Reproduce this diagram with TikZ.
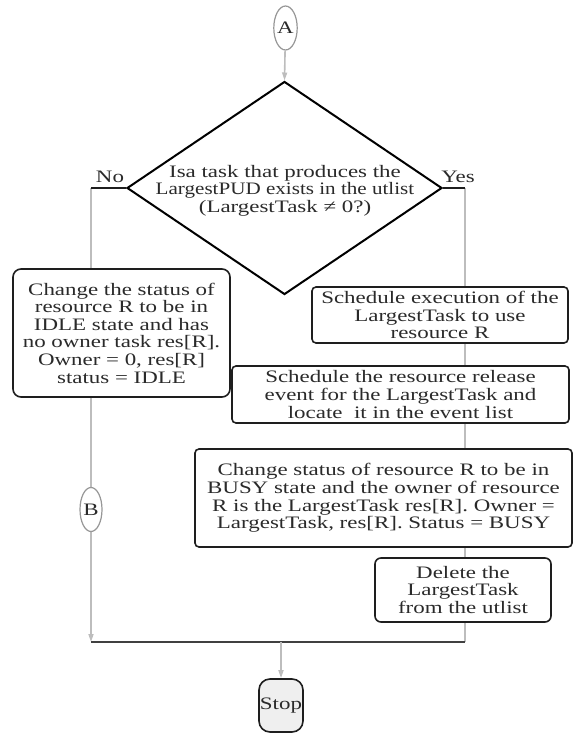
\documentclass[tikz,border=0pt]{standalone}
\usepackage{fontspec}
\usepackage{graphicx}
\setmainfont[FakeStretch=1.31]{Liberation Serif}
\usetikzlibrary{shapes.geometric,arrows.meta,backgrounds}
\definecolor{txtc}{HTML}{2A2A2A}
\definecolor{edgec}{HTML}{1E1E1E}
\definecolor{flowc}{HTML}{BDBDBD}
\definecolor{stopfill}{HTML}{EFEFEF}
\begin{document}
\begin{tikzpicture}[x=1pt,y=-1pt,
  every node/.style={font=\fontsize{17.5}{17.6}\selectfont, text=txtc},
  procbox/.style={draw=edgec, line width=1.6pt, fill=white, rounded corners=4pt,
    inner sep=0pt, align=center},
  decision/.style={diamond, draw=black, line width=2pt, fill=white, inner sep=0pt,
    minimum width=315pt, minimum height=213pt},
  connector/.style={ellipse, draw=flowc!80!black, line width=1.2pt, fill=white,
    inner sep=0pt, minimum width=22pt, minimum height=44pt},
  terminal/.style={draw=edgec, line width=1.6pt, fill=stopfill, rounded corners=11pt,
    inner sep=0pt, minimum width=44pt, minimum height=53pt},
  flow/.style={draw=flowc, line width=1.6pt},
  flowarrow/.style={flow, -{Triangle[length=8pt,width=5pt]}},
  stub/.style={draw=edgec, line width=1.6pt},
  plain/.style={inner sep=0pt, align=center}]
\useasboundingbox (0,0) rectangle (574,733);

% connectors and decision
\node[connector] (A) at (285.5,28) {A};
\node[decision] (dec) at (284.5,188) {};
\node[plain] (dectext) at (285,190.5) {Isa task that produces the\\
  \scalebox{0.92}[1]{LargestPUD exists in the utlist}\\ (LargestTask ≠ 0?)};
\node[plain] (no) at (110,177) {No};
\node[plain] (yes) at (458,177) {Yes};

% process boxes
\node[procbox, rounded corners=8pt, minimum width=217pt, minimum height=128pt]
  (idle) at (121.5,333) {Change the status of\\ resource R to be in\\ IDLE state and has\\
  no owner task res[R].\\ Owner = 0, res[R]\\ status = IDLE};
\node[procbox, minimum width=256pt, minimum height=56pt]
  (sched) at (440,315) {Schedule execution of the\\ LargestTask to use\\ resource R};
\node[procbox, minimum width=337pt, minimum height=57pt]
  (release) at (400.5,394.5) {Schedule the resource release\\ event for the LargestTask and\\
  locate\ \ it in the\ event list};
\node[procbox, minimum width=377pt, minimum height=98pt]
  (busy) at (383.5,498) {Change status of resource R to be in\\
  BUSY state and the owner of resource\\ R is the LargestTask res[R]. Owner =\\
  LargestTask, res[R]. Status = BUSY};
\node[procbox, rounded corners=6pt, minimum width=176pt, minimum height=64pt]
  (delete) at (463,590) {Delete the\\ LargestTask\\ from the utlist};

\node[connector] (B) at (91,509.5) {B};
\node[terminal] (stop) at (281,705.5) {Stop};

% junction points of the flow lines
\coordinate (nocorner) at (91,188);
\coordinate (yescorner) at (465,188);
\coordinate (joinl) at (91,642);
\coordinate (joinr) at (465,642);

\begin{scope}[on background layer]
  \draw[flow] (nocorner) -- (B);
  \draw[flowarrow] (B) -- (joinl);
  \draw[flow] (yescorner) -- (joinr);
\end{scope}

\draw[flowarrow] (A) -- (dec.north);
\draw[stub] (dec.west) -- (nocorner);
\draw[stub] (dec.east) -- (yescorner);
\draw[stub, draw=edgec!85] (joinl) -- (joinr);
\draw[flowarrow] (stop.north |- joinl) -- (stop.north);
\end{tikzpicture}
\end{document}
